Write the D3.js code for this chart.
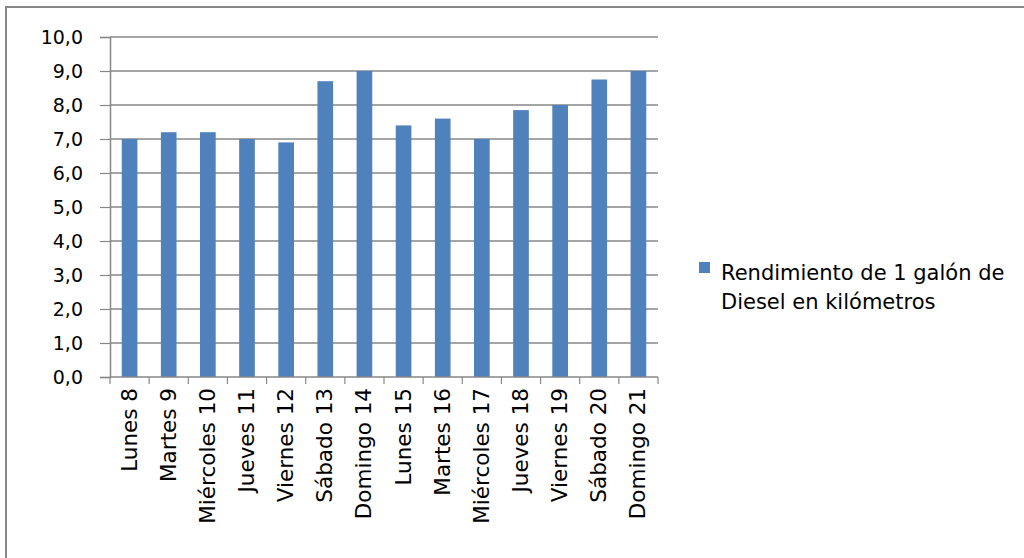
<!DOCTYPE html>
<html>
<head>
<meta charset="utf-8">
<script src="https://cdn.jsdelivr.net/npm/d3@7"></script>
<style>
  html, body { margin: 0; padding: 0; background: #fff; }
  svg { display: block; }
  text { font-family: "DejaVu Sans", sans-serif; fill: #000; }
</style>
</head>
<body>
<svg id="chart" width="1024" height="558"></svg>
<script>
// Días del periodo medido
const categories = ["Lunes 8", "Martes 9", "Miércoles 10", "Jueves 11", "Viernes 12", "Sábado 13", "Domingo 14",
                    "Lunes 15", "Martes 16", "Miércoles 17", "Jueves 18", "Viernes 19", "Sábado 20", "Domingo 21"];
// Kilómetros recorridos por galón de diésel
const values = [7.0, 7.2, 7.2, 7.0, 6.9, 8.7, 9.0, 7.4, 7.6, 7.0, 7.85, 8.0, 8.75, 9.0];
const yTicks = [0, 1, 2, 3, 4, 5, 6, 7, 8, 9, 10];
const seriesName = ["Rendimiento de 1 galón de", "Diesel en kilómetros"];

const svg = d3.select("#chart");
const gridColor = "#878787";
const barColor = "#4F81BD";

// Chart frame
svg.append("rect")
  .attr("x", 6).attr("y", 7)
  .attr("width", 1030).attr("height", 560)
  .attr("fill", "none")
  .attr("stroke", gridColor)
  .attr("stroke-width", 2);

const plot = { left: 110, right: 658, top: 37, bottom: 377 };

const x = d3.scaleBand()
  .domain(categories)
  .range([plot.left, plot.right])
  .paddingInner(0.6)
  .paddingOuter(0.3);

const y = d3.scaleLinear()
  .domain([0, 10])
  .range([plot.bottom, plot.top]);

// Horizontal gridlines
svg.append("g")
  .selectAll("line")
  .data(yTicks.filter(d => d > 0))
  .join("line")
  .attr("x1", plot.left).attr("x2", plot.right)
  .attr("y1", d => y(d)).attr("y2", d => y(d))
  .attr("stroke", gridColor)
  .attr("stroke-width", 1.5);

// Bars
svg.append("g")
  .selectAll("rect")
  .data(values)
  .join("rect")
  .attr("x", (d, i) => x(categories[i]))
  .attr("width", x.bandwidth())
  .attr("y", d => y(d))
  .attr("height", d => y(0) - y(d))
  .attr("fill", barColor);

// Y axis
const fmt = d => d.toFixed(1).replace(".", ",");
const yAxis = svg.append("g")
  .attr("transform", `translate(${plot.left},0)`)
  .call(d3.axisLeft(y).tickValues(yTicks).tickFormat(fmt).tickSize(10).tickPadding(17));
yAxis.select(".domain").attr("stroke", gridColor).attr("stroke-width", 1.5);
yAxis.selectAll(".tick line").attr("stroke", gridColor).attr("stroke-width", 1.2);
yAxis.selectAll(".tick text")
  .style("font-size", "19px")
  .style("font-family", "'DejaVu Sans', sans-serif")
  .attr("fill", "#000");

// X axis with ticks on category boundaries
const xAxis = svg.append("g")
  .attr("transform", `translate(0,${plot.bottom})`);
xAxis.append("line")
  .attr("x1", plot.left).attr("x2", plot.right)
  .attr("stroke", gridColor).attr("stroke-width", 1.5);
const boundaries = d3.range(categories.length + 1).map(i => plot.left + (plot.right - plot.left) * i / categories.length);
xAxis.selectAll("line.tk")
  .data(boundaries)
  .join("line")
  .attr("class", "tk")
  .attr("x1", d => d).attr("x2", d => d)
  .attr("y1", 0).attr("y2", 7)
  .attr("stroke", gridColor).attr("stroke-width", 1.2);
xAxis.selectAll("text")
  .data(categories)
  .join("text")
  .attr("transform", d => `translate(${x(d) + x.bandwidth() / 2 + 7},11) rotate(-90)`)
  .attr("text-anchor", "end")
  .style("font-size", "21.5px")
  .text(d => d);

// Legend
const legend = svg.append("g").attr("transform", "translate(699,262)");
legend.append("rect")
  .attr("width", 11).attr("height", 11)
  .attr("fill", barColor);
legend.selectAll("text")
  .data(seriesName)
  .join("text")
  .attr("x", 22)
  .attr("y", (d, i) => 18 + i * 29)
  .style("font-size", "21px")
  .text(d => d);
</script>
</body>
</html>
